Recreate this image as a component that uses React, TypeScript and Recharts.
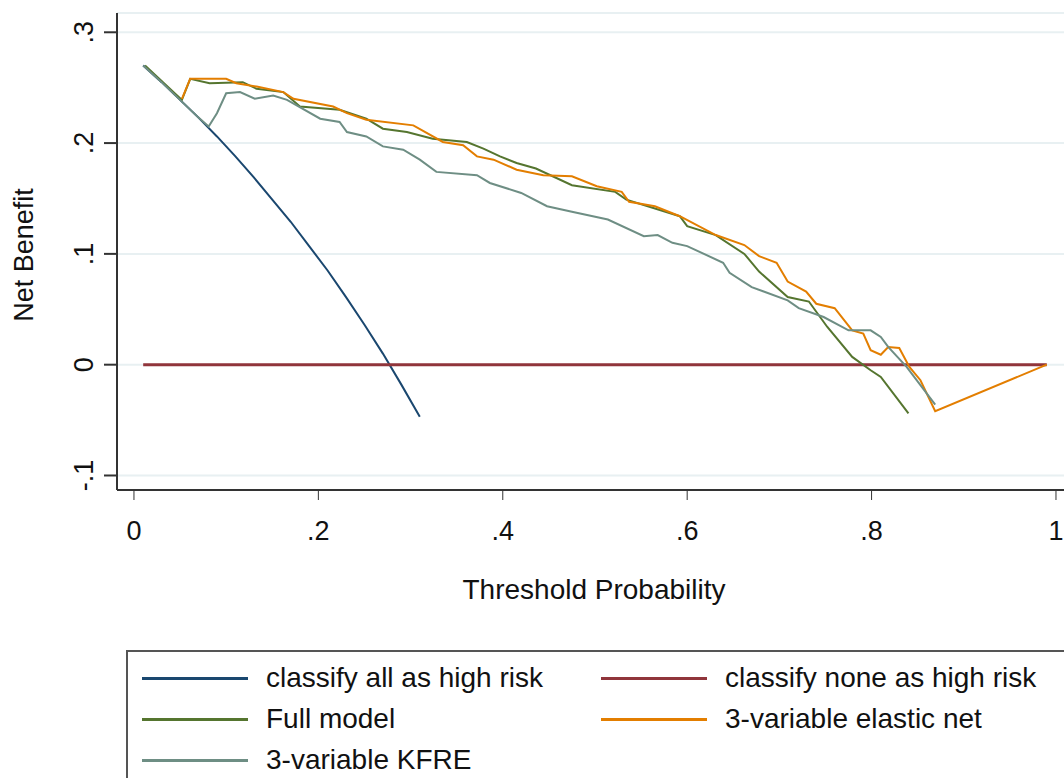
import { LineChart, Line, XAxis, YAxis, CartesianGrid } from 'recharts';

// threshold probability (x) and net benefit (y)
const allT = [0.01, 0.03, 0.05, 0.07, 0.09, 0.11, 0.13, 0.15, 0.17, 0.19, 0.21, 0.23, 0.25, 0.27, 0.29, 0.31];
const allNB = [0.27, 0.255, 0.239, 0.223, 0.206, 0.188, 0.169, 0.149, 0.129, 0.107, 0.085, 0.061, 0.036, 0.01, -0.018, -0.047];

const noneT = [0.01, 0.99];
const noneNB = [0, 0];

const fullT = [0.012, 0.052, 0.061, 0.082, 0.118, 0.133, 0.162, 0.18, 0.223, 0.252, 0.27, 0.296, 0.324, 0.361, 0.379, 0.397, 0.415, 0.436, 0.475, 0.522, 0.534, 0.592, 0.6, 0.631, 0.662, 0.678, 0.709, 0.732, 0.752, 0.779, 0.799, 0.81, 0.84];
const fullNB = [0.27, 0.239, 0.258, 0.254, 0.255, 0.249, 0.246, 0.233, 0.23, 0.222, 0.213, 0.21, 0.204, 0.201, 0.195, 0.188, 0.182, 0.177, 0.162, 0.156, 0.149, 0.134, 0.125, 0.117, 0.1, 0.084, 0.061, 0.057, 0.034, 0.007, -0.005, -0.011, -0.044];

const elasticT = [0.052, 0.061, 0.09, 0.1, 0.111, 0.133, 0.162, 0.173, 0.216, 0.231, 0.252, 0.303, 0.335, 0.357, 0.372, 0.39, 0.415, 0.444, 0.475, 0.502, 0.529, 0.537, 0.565, 0.592, 0.631, 0.662, 0.678, 0.697, 0.709, 0.729, 0.74, 0.76, 0.779, 0.791, 0.799, 0.81, 0.818, 0.83, 0.841, 0.853, 0.869, 0.99];
const elasticNB = [0.24, 0.258, 0.258, 0.258, 0.254, 0.251, 0.246, 0.24, 0.233, 0.227, 0.221, 0.216, 0.201, 0.198, 0.188, 0.185, 0.176, 0.171, 0.17, 0.161, 0.156, 0.147, 0.143, 0.134, 0.117, 0.108, 0.098, 0.092, 0.075, 0.066, 0.055, 0.051, 0.031, 0.028, 0.013, 0.009, 0.016, 0.015, -0.002, -0.014, -0.042, 0];

const kfreT = [0.01, 0.03, 0.05, 0.07, 0.081, 0.09, 0.1, 0.115, 0.131, 0.151, 0.166, 0.202, 0.223, 0.231, 0.252, 0.27, 0.292, 0.31, 0.328, 0.372, 0.386, 0.42, 0.448, 0.475, 0.514, 0.553, 0.568, 0.584, 0.6, 0.639, 0.646, 0.67, 0.709, 0.721, 0.748, 0.775, 0.799, 0.81, 0.818, 0.838, 0.869];
const kfreNB = [0.27, 0.255, 0.239, 0.223, 0.215, 0.227, 0.245, 0.246, 0.24, 0.243, 0.239, 0.222, 0.219, 0.21, 0.206, 0.197, 0.194, 0.185, 0.174, 0.171, 0.164, 0.155, 0.143, 0.138, 0.131, 0.116, 0.117, 0.11, 0.107, 0.092, 0.083, 0.07, 0.058, 0.051, 0.043, 0.031, 0.031, 0.025, 0.016, -0.002, -0.036];

const xTicks = [0, 0.2, 0.4, 0.6, 0.8, 1];
const yTicks = [-0.1, 0, 0.1, 0.2, 0.3];

const series = [
  { name: 'classify all as high risk', t: allT, nb: allNB, color: '#1a476f', width: 2 },
  { name: 'classify none as high risk', t: noneT, nb: noneNB, color: '#90353b', width: 3 },
  { name: 'Full model', t: fullT, nb: fullNB, color: '#55752f', width: 2 },
  { name: '3-variable elastic net', t: elasticT, nb: elasticNB, color: '#e37e00', width: 2 },
  { name: '3-variable KFRE', t: kfreT, nb: kfreNB, color: '#6e8e84', width: 2 },
];

const FONT = '"Liberation Sans", Arial, sans-serif';

const fmt = (v: number) => {
  if (v === 0) return '0';
  if (v === 1) return '1';
  return (v < 0 ? '-' : '') + String(Math.abs(v)).replace(/^0/, '');
};

function XTick({ x, payload }: any) {
  return (
    <text x={x} y={540} textAnchor="middle" fontSize={27} fill="#111" fontFamily={FONT}>
      {fmt(payload.value)}
    </text>
  );
}

function YTick({ y, payload }: any) {
  return (
    <text transform={`translate(93, ${y}) rotate(-90)`} textAnchor="middle" fontSize={27} fill="#111" fontFamily={FONT}>
      {fmt(payload.value)}
    </text>
  );
}

export default function App() {
  const lines = series.map((s) => ({ ...s, data: s.t.map((t, i) => ({ t, nb: s.nb[i] })) }));
  return (
    <div style={{ position: 'absolute', left: 0, top: 0, width: 1064, height: 778, overflow: 'hidden', background: '#fff', fontFamily: FONT }}>
      <LineChart width={1064} height={778} margin={{ top: 13, right: 0, left: 0, bottom: 0 }}>
        <CartesianGrid horizontal vertical={false} stroke="#e8f0f2" strokeWidth={2} />
        <XAxis
          dataKey="t"
          type="number"
          domain={[-0.0184, 1.0087]}
          ticks={xTicks}
          allowDataOverflow
          height={288}
          tick={<XTick />}
          tickSize={10}
          tickLine={{ stroke: '#333', strokeWidth: 1 }}
          axisLine={{ stroke: '#333', strokeWidth: 2 }}
          label={{
            content: () => (
              <text x={594} y={599} textAnchor="middle" fontSize={28} fill="#111" fontFamily={FONT}>
                Threshold Probability
              </text>
            ),
          }}
        />
        <YAxis
          type="number"
          domain={[-0.1131, 0.3174]}
          ticks={yTicks}
          allowDataOverflow
          width={117}
          tick={<YTick />}
          tickSize={13}
          tickLine={{ stroke: '#333', strokeWidth: 2 }}
          axisLine={{ stroke: '#333', strokeWidth: 2 }}
          label={{
            content: () => (
              <text transform="translate(33, 255) rotate(-90)" textAnchor="middle" fontSize={27} fill="#111" fontFamily={FONT}>
                Net Benefit
              </text>
            ),
          }}
        />
        {lines.map((s) => (
          <Line
            key={s.name}
            data={s.data}
            dataKey="nb"
            name={s.name}
            stroke={s.color}
            strokeWidth={s.width}
            dot={false}
            activeDot={false}
            type="linear"
            isAnimationActive={false}
          />
        ))}
      </LineChart>
      <div style={{ position: 'absolute', left: 126, top: 650, width: 1000, height: 200, border: '2px solid #555', boxSizing: 'border-box' }}>
        {series.map((s, i) => {
          const col = i % 2;
          const row = Math.floor(i / 2);
          const left = col === 0 ? 14 : 473;
          const top = 26 + row * 41;
          return (
            <div key={s.name} style={{ position: 'absolute', left, top: top - 18, height: 36, display: 'flex', alignItems: 'center' }}>
              <div style={{ width: 106, height: 3, background: s.color }} />
              <span style={{ marginLeft: 18, fontSize: 28, lineHeight: '36px', color: '#111', whiteSpace: 'nowrap' }}>{s.name}</span>
            </div>
          );
        })}
      </div>
    </div>
  );
}
